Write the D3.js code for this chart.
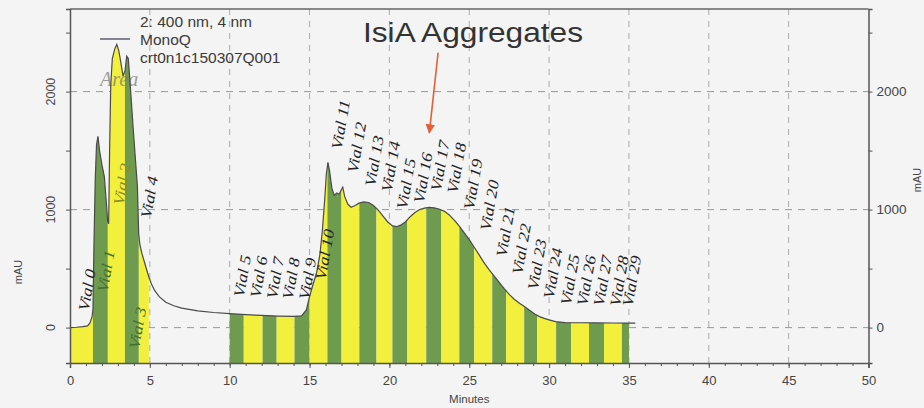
<!DOCTYPE html>
<html>
<head>
<meta charset="utf-8">
<script src="https://cdn.jsdelivr.net/npm/d3@7"></script>
<style>
  body { margin: 0; background: #f4f4f4; }
  svg { display: block; }
</style>
</head>
<body>
<svg id="chart" width="924" height="408"></svg>
<script>
// Chromatogram trace (minutes, mAU)
const traceTime = [0.00, 0.40, 0.80, 1.10, 1.25, 1.38, 1.44, 1.50, 1.58, 1.66, 1.75, 1.85, 2.00, 2.15, 2.28, 2.36, 2.42, 2.48, 2.55, 2.65,
  2.80, 2.93, 3.05, 3.18, 3.32, 3.45, 3.55, 3.65, 3.80, 3.95, 4.10, 4.22, 4.30, 4.38, 4.50, 4.65, 4.80, 4.95, 5.10, 5.30,
  5.60, 6.00, 6.50, 7.00, 8.00, 9.00, 10.00, 11.00, 12.00, 13.00, 14.00, 14.50, 14.80, 15.00, 15.25, 15.45, 15.65, 15.80, 15.95, 16.05,
  16.15, 16.25, 16.40, 16.55, 16.70, 16.85, 17.00, 17.08, 17.20, 17.40, 17.60, 17.85, 18.10, 18.40, 18.70, 19.00, 19.30, 19.60, 19.90, 20.20,
  20.45, 20.70, 21.00, 21.30, 21.60, 21.90, 22.20, 22.50, 22.80, 23.10, 23.45, 23.75, 24.10, 24.40, 24.70, 25.00, 25.30, 25.60, 25.90, 26.25,
  26.60, 26.90, 27.20, 27.50, 27.80, 28.10, 28.45, 28.75, 29.10, 29.40, 29.70, 30.00, 30.40, 31.00, 32.00, 33.00, 34.00, 35.00, 35.40];
const traceMAU = [0, 3, 8, 15, 40, 90, 160, 700, 1250, 1550, 1620, 1500, 1380, 1280, 1050, 900, 880, 1500, 2050, 2280,
  2360, 2400, 2350, 2250, 2130, 2180, 2300, 2280, 2000, 1700, 1420, 1200, 800, 700, 630, 560, 490, 425, 370, 315,
  260, 215, 185, 165, 142, 128, 118, 110, 103, 98, 95, 100, 150, 263, 380, 470, 620, 820, 1085, 1300,
  1400, 1330, 1180, 1120, 1140, 1130, 1170, 1190, 1110, 1045, 1020, 1035, 1055, 1065, 1060, 1035, 995, 945, 895, 862,
  855, 868, 895, 940, 975, 1000, 1013, 1018, 1015, 1005, 985, 955, 905, 855, 800, 745, 683, 620, 555, 490,
  430, 380, 328, 282, 243, 210, 178, 150, 115, 93, 78, 66, 50, 43, 41, 40, 39, 38, 38];

// Fraction collector vials (start / end in minutes)
const vialStart = [0, 1.44, 2.37, 3.44, 4.31, 10.0, 10.88, 12.06, 12.94, 14.06, 15.0, 16.12, 17.0, 18.12, 19.19,
  20.19, 21.12, 22.31, 23.25, 24.38, 25.31, 26.44, 27.31, 28.44, 29.25, 30.44, 31.38, 32.5, 33.44, 34.56];
const vialEnd = [1.44, 2.37, 3.44, 4.31, 4.94, 10.88, 12.06, 12.94, 14.06, 15.0, 16.12, 17.0, 18.12, 19.19, 20.19,
  21.12, 22.31, 23.25, 24.38, 25.31, 26.44, 27.31, 28.44, 29.25, 30.44, 31.38, 32.5, 33.44, 34.56, 35.0];
const vialNames = vialStart.map((d, i) => 'Vial ' + i);
// vial 3's label sits low, below the peak (mAU of its base)
const labelLevelOverride = [[3, -186]];

const xTicks = d3.range(0, 51, 5);
const xMinorTicks = d3.range(0, 51, 1);
const yTicks = [0, 500, 1000, 1500, 2000, 2500];
const yLabelTicks = [0, 1000, 2000];
const legendLines = ['2: 400 nm, 4 nm', 'MonoQ', 'crt0n1c150307Q001'];
const titleText = 'IsiA Aggregates';
const arrowFrom = [23.05, 2330];
const arrowTo = [22.5, 1650];

const svg = d3.select('#chart');
const x = d3.scaleLinear().domain([0, 50]).range([70, 868.5]);
const y = d3.scaleLinear().domain([-300, 2700]).range([363, 9]);

const yellow = '#f3ef3d';
const green = '#6f9b4f';

// value of the trace at any time (linear between read points)
function mauAt(t) {
  const i = d3.bisectRight(traceTime, t);
  if (i <= 0) return traceMAU[0];
  if (i >= traceTime.length) return traceMAU[traceMAU.length - 1];
  const t0 = traceTime[i - 1], t1 = traceTime[i];
  return traceMAU[i - 1] + (traceMAU[i] - traceMAU[i - 1]) * (t - t0) / (t1 - t0);
}

// grid
const grid = svg.append('g');
grid.selectAll('line.v').data(xTicks.filter(d => d > 0 && d < 50)).join('line')
  .attr('x1', d => x(d)).attr('x2', d => x(d))
  .attr('y1', y.range()[1]).attr('y2', y.range()[0])
  .attr('stroke', '#aaa').attr('stroke-width', 1).attr('stroke-dasharray', '6,6');
grid.selectAll('line.h').data(yLabelTicks).join('line')
  .attr('x1', x(0)).attr('x2', x(50))
  .attr('y1', d => y(d)).attr('y2', d => y(d))
  .attr('stroke', '#999').attr('stroke-width', 1).attr('stroke-dasharray', '7,6');

// fraction bars
const area = d3.area()
  .x(d => x(d[0]))
  .y0(y(-300))
  .y1(d => y(d[1]));

const fractions = vialStart.map((s, i) => {
  const e = vialEnd[i];
  const pts = [[s, mauAt(s)]];
  traceTime.forEach((t, j) => { if (t > s && t < e) pts.push([t, traceMAU[j]]); });
  pts.push([e, mauAt(e)]);
  return { i, s, e, pts };
});

svg.append('g').selectAll('path').data(fractions).join('path')
  .attr('d', d => area(d.pts))
  .attr('fill', d => d.i % 2 === 0 ? yellow : green);

// "Area" tag
svg.append('text')
  .attr('x', 100).attr('y', 86)
  .attr('font-family', 'Liberation Serif, serif')
  .attr('font-style', 'italic')
  .attr('font-size', 20).attr('fill', '#777').attr('opacity', 0.7)
  .text('Area');

// trace
const line = d3.line().x((d, i) => x(traceTime[i])).y(d => y(d));
svg.append('path')
  .datum(traceMAU)
  .attr('d', line)
  .attr('fill', 'none')
  .attr('stroke', '#4a4a4a')
  .attr('stroke-width', 1.2);

// vial labels
const overrides = new Map(labelLevelOverride);
svg.append('g').selectAll('text').data(fractions).join('text')
  .attr('transform', d => {
    const base = overrides.has(d.i) ? y(overrides.get(d.i)) : y(mauAt(d.s)) - 16;
    return `translate(${x((d.s + d.e) / 2) + 7},${base}) rotate(-80) scale(1,0.85)`;
  })
  .attr('font-family', 'Liberation Serif, Times New Roman, serif')
  .attr('font-style', 'italic')
  .attr('font-size', 18)
  .attr('fill', d => d.i === 1 || d.i === 3 ? '#44702f' : (d.i === 2 ? '#8c8a22' : '#222'))
  .text(d => vialNames[d.i]);

// axes
const axisColor = '#555';
const gx = svg.append('g').attr('transform', `translate(0,${y(-300)})`)
  .call(d3.axisBottom(x).tickValues(xTicks).tickSize(5).tickPadding(8));
svg.append('g').attr('transform', `translate(0,${y(-300)})`)
  .call(d3.axisBottom(x).tickValues(xMinorTicks).tickSize(3).tickFormat(''))
  .call(g => g.select('.domain').remove());
gx.select('.domain').attr('stroke', axisColor).attr('stroke-width', 1.5);

const gl = svg.append('g').attr('transform', `translate(${x(0)},0)`)
  .call(d3.axisLeft(y).tickValues(yTicks).tickSize(4).tickFormat(''));
gl.select('.domain').attr('stroke', axisColor).attr('stroke-width', 1.5);
svg.append('g').selectAll('text').data(yLabelTicks).join('text')
  .attr('transform', d => `translate(55,${y(d)}) rotate(-90)`)
  .attr('text-anchor', 'middle')
  .attr('font-size', 12.5)
  .text(d => d);

const gr = svg.append('g').attr('transform', `translate(${x(50)},0)`)
  .call(d3.axisRight(y).tickValues(yTicks).tickSize(4).tickPadding(4)
    .tickFormat(d => yLabelTicks.includes(d) ? d : ''));
gr.select('.domain').attr('stroke', axisColor).attr('stroke-width', 1.5);

svg.selectAll('.tick line').attr('stroke', axisColor);
svg.selectAll('text')
  .filter(function () { return !this.getAttribute('font-family'); })
  .attr('font-family', 'Liberation Sans, Arial, sans-serif')
  .attr('fill', '#444');
gx.selectAll('text').attr('font-size', 13);
gr.selectAll('text').attr('font-size', 13.5);

// top frame
svg.append('line')
  .attr('x1', x(0)).attr('x2', x(50))
  .attr('y1', y(2700)).attr('y2', y(2700))
  .attr('stroke', '#666').attr('stroke-width', 1.5);

// axis titles
svg.append('text').attr('x', x(25)).attr('y', 403)
  .attr('text-anchor', 'middle').attr('font-size', 11.5)
  .attr('font-family', 'Liberation Sans, Arial, sans-serif').attr('fill', '#444')
  .text('Minutes');
svg.append('text').attr('transform', 'translate(22,272) rotate(-90)')
  .attr('text-anchor', 'middle').attr('font-size', 11)
  .attr('font-family', 'Liberation Sans, Arial, sans-serif').attr('fill', '#444')
  .text('mAU');
svg.append('text').attr('transform', 'translate(921,180) rotate(-90)')
  .attr('text-anchor', 'middle').attr('font-size', 11)
  .attr('font-family', 'Liberation Sans, Arial, sans-serif').attr('fill', '#444')
  .text('mAU');

// legend
const legend = svg.append('g')
  .attr('font-family', 'Liberation Sans, Arial, sans-serif')
  .attr('font-size', 15.5).attr('fill', '#3a3a3a');
legend.selectAll('text').data(legendLines).join('text')
  .attr('x', 140).attr('y', (d, i) => 27 + i * 18)
  .text(d => d);
legend.append('line')
  .attr('x1', 100).attr('x2', 130).attr('y1', 39).attr('y2', 39)
  .attr('stroke', '#5b6170').attr('stroke-width', 1.5);

// annotation
svg.append('text')
  .attr('x', 363).attr('y', 42)
  .attr('font-family', 'Liberation Sans, Arial, sans-serif')
  .attr('font-size', 27).attr('fill', '#333')
  .attr('textLength', 220).attr('lengthAdjust', 'spacingAndGlyphs')
  .text(titleText);

svg.append('defs').append('marker')
  .attr('id', 'head').attr('viewBox', '0 0 10 10')
  .attr('refX', 9).attr('refY', 5)
  .attr('markerWidth', 6).attr('markerHeight', 6)
  .attr('markerUnits', 'strokeWidth')
  .attr('orient', 'auto')
  .append('path').attr('d', 'M0,0L10,5L0,10z').attr('fill', '#e5603a');
svg.append('line')
  .attr('x1', x(arrowFrom[0])).attr('y1', y(arrowFrom[1]))
  .attr('x2', x(arrowTo[0])).attr('y2', y(arrowTo[1]))
  .attr('stroke', '#e5603a').attr('stroke-width', 1.6)
  .attr('marker-end', 'url(#head)');
</script>
</body>
</html>
